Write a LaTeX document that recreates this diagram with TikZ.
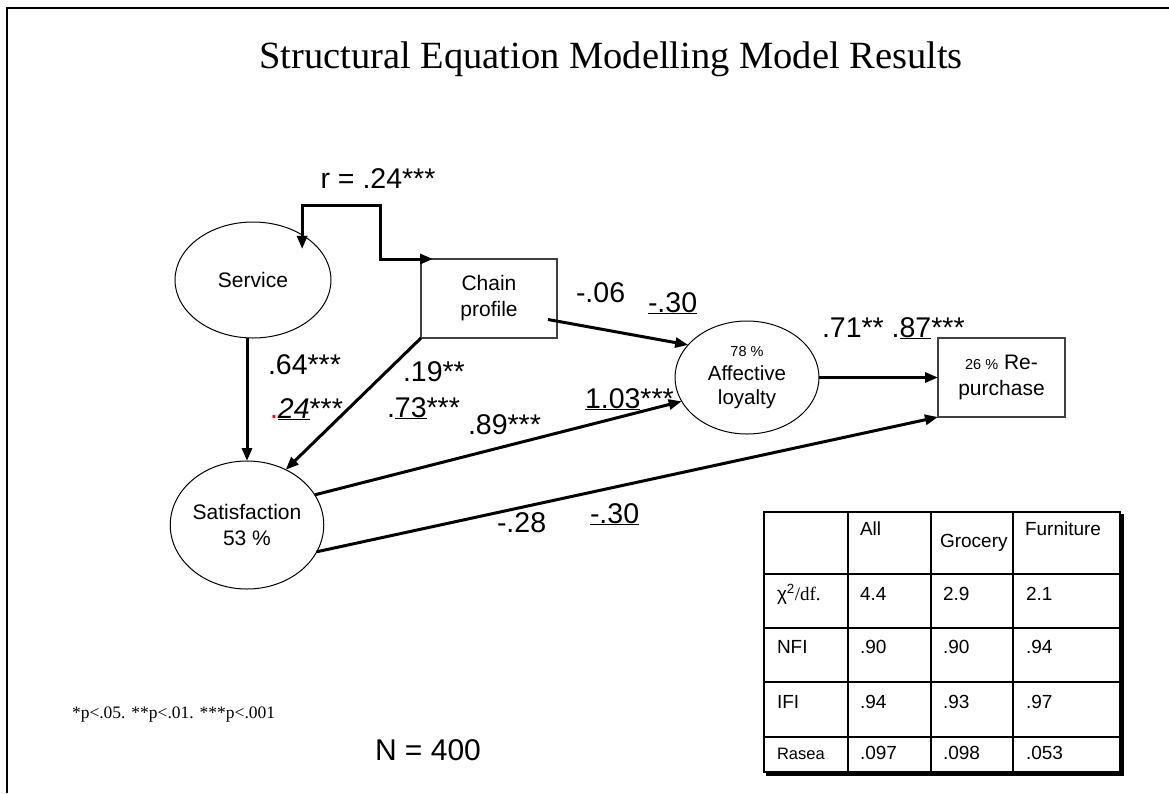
\documentclass[tikz,border=0pt]{standalone}
\usepackage{fontspec}
\setmainfont{Liberation Sans}
\newfontfamily\timesfont{Liberation Serif}
\usetikzlibrary{positioning,arrows.meta,shapes.geometric}
\newcommand\smallpc[1]{{\fontsize{14.5}{17}\selectfont #1}}

\begin{document}
\begin{tikzpicture}[
  x=1pt, y=-1pt,
  every node/.style={inner sep=0pt, outer sep=0pt},
  latent/.style={
    draw, ellipse, line width=1pt, align=center,
    font=\fontsize{21}{26}\selectfont,
  },
  observed/.style={
    draw=black!75, line width=1.3pt, align=center,
    minimum height=79pt, font=\fontsize{21}{26}\selectfont,
  },
  effect/.style={-{Triangle[length=13pt,width=10pt]}, line width=3pt},
  corr/.style={{Triangle[length=13pt,width=10pt]}-{Triangle[length=13pt,width=10pt]}, line width=3pt},
  coef/.style={anchor=base west, font=\fontsize{28.5}{30}\selectfont},
  cell/.style={anchor=base west, font=\fontsize{19}{21}\selectfont},
  grid/.style={line width=1.5pt},
]
  \useasboundingbox (0,0) rectangle (1169,793);

  % Frame and title
  \draw[line width=2pt] (7,793) -- (7,8) -- (1169,8);
  \node[anchor=base, font=\timesfont\fontsize{38.5}{40}\selectfont] (title) at (611,68)
    {Structural Equation Modelling Model Results};

  % Constructs
  \node[latent, minimum width=156pt, minimum height=116pt] (service) at (253,280) {Service};
  \node[latent, minimum width=146pt, minimum height=128pt] (satis) at (247,525) {Satisfaction\\53 \%};
  \node[observed, minimum width=136pt] (chain) at (489,298.5) {Chain\\profile};
  \node[latent, minimum width=144pt, minimum height=113pt, font=\fontsize{20.5}{24}\selectfont]
    (affect) at (747,377.5) {\smallpc{78 \%}\\Affective\\loyalty};
  \node[observed, minimum width=127pt, right=119pt of affect] (repur) {\smallpc{26 \%} Re-\\purchase};

  % Correlation
  \coordinate (rcorner) at (380,205);
  \draw[corr] ([xshift=12pt]chain.north west) -| (rcorner) -| ([xshift=-6pt,yshift=-10pt]service.north east);
  \node[anchor=base, font=\fontsize{28.5}{30}\selectfont] (rlab) at (378,188) {r = .24***};

  % Paths
  \draw[effect] (service.south -| satis.north) -- (satis.north);
  \draw[effect] (chain.south west) -- (satis.55);
  \draw[effect] ([xshift=-9pt,yshift=-21pt]chain.east) -- (affect.151);
  \draw[effect] (satis.24) -- (affect.200);
  \draw[effect] (satis.-21) -- (repur.south west);
  \draw[effect] (affect.east) -- (repur.west);

  % Coefficients
  \node[coef] (c1) at (268,374) {.64***};
  \node[coef] (c2) at (270,418) {{\color{red}.}\underline{\textit{24}}***};
  \node[coef] (c3) at (403,381) {.19**};
  \node[coef] (c4) at (387,417) {.\underline{73}***};
  \node[coef] (c5) at (468,434) {.89***};
  \node[coef] (c6) at (585,408) {\underline{1.03}***};
  \node[coef] (c7) at (576,302) {-.06};
  \node[coef] (c8) at (648,312) {\underline{-.30}};
  \node[coef] (c9) at (822,337) {.71** .\underline{87}***};
  \node[coef] (c10) at (497,532) {-.28};
  \node[coef] (c11) at (590,523) {\underline{-.30}};

  % Fit table
  \foreach \x in {848,931,1013} \draw[grid] (\x,512) -- (\x,772);
  \foreach \y in {574,628,682,737} \draw[grid] (764,\y) -- (1120,\y);
  \draw[line width=2.5pt] (764,512) rectangle (1120,772);
  \draw[line width=3.5pt] (1122,514) -- (1122,774) -- (766,774);
  \node[cell] (hall) at (860,535) {All};
  \node[cell] (hgro) at (940,547) {Grocery};
  \node[cell] (hfur) at (1025,535) {Furniture};
  \node[cell] (rchi) at (777,600) {χ\textsuperscript{2}{\timesfont/df.}};
  \node[cell] (rnfi) at (777,653) {NFI};
  \node[cell] (rifi) at (777,708) {IFI};
  \node[cell, font=\fontsize{16.5}{18}\selectfont] (rrms) at (777,759) {Rasea};
  \foreach \va/\vb/\vc/\y [count=\i] in {4.4/2.9/2.1/600, .90/.90/.94/653, .94/.93/.97/708, .097/.098/.053/759} {
    \node[cell] (a\i) at (860,\y) {\va};
    \node[cell] (b\i) at (943,\y) {\vb};
    \node[cell] (f\i) at (1026,\y) {\vc};
  }

  % Notes
  \node[anchor=base west, font=\timesfont\fontsize{17.5}{20}\selectfont] (note) at (72,718)
    {*p<.05. **p<.01. ***p<.001};
  \node[anchor=base west, font=\fontsize{30}{32}\selectfont] (nsize) at (375,760) {N = 400};
\end{tikzpicture}
\end{document}
